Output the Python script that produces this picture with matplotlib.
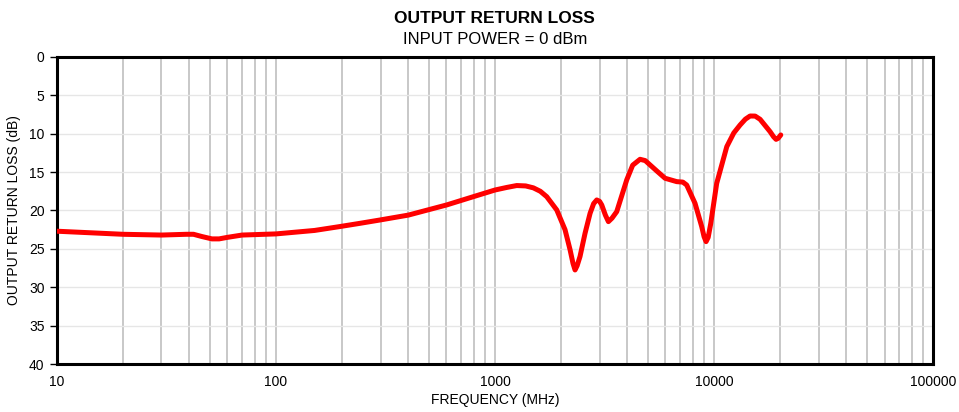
import numpy as np
import matplotlib.pyplot as plt
from matplotlib.ticker import LogLocator, FixedLocator, NullFormatter

plt.rcParams['font.family'] = ['Liberation Sans', 'DejaVu Sans']

# Output return loss vs frequency
freq_mhz = [10, 20, 30, 39, 42, 46, 51, 55, 60, 70, 100, 150, 195, 242, 298,
            402, 505, 601, 796, 1000, 1130, 1256, 1380, 1496, 1610, 1722, 1913,
            2087, 2200, 2270, 2319, 2370, 2443, 2576, 2716, 2820, 2913, 3000,
            3070, 3190, 3293, 3420, 3594, 3994, 4250, 4592, 4850, 5104, 5500,
            5974, 6752, 7200, 7499, 8185, 8782, 9000, 9193, 9400, 9656, 10280,
            11430, 12300, 13146, 13900, 14600, 15400, 16220, 18020, 18700,
            19190, 19600, 20160]
rl_db = [22.7, 23.1, 23.2, 23.1, 23.1, 23.4, 23.7, 23.7, 23.5, 23.2, 23.05,
         22.6, 22.1, 21.67, 21.24, 20.6, 19.85, 19.28, 18.2, 17.33, 17.0,
         16.75, 16.8, 17.05, 17.5, 18.2, 19.93, 22.5, 25.1, 26.9, 27.75,
         27.2, 26.0, 22.97, 20.37, 19.1, 18.63, 18.8, 19.28, 20.6, 21.45,
         21.0, 20.15, 16.0, 14.1, 13.33, 13.5, 14.07, 14.9, 15.8, 16.24,
         16.3, 16.68, 19.06, 22.1, 23.4, 24.06, 23.5, 21.7, 16.46, 11.68,
         9.9, 8.86, 8.1, 7.69, 7.7, 8.12, 9.73, 10.4, 10.73, 10.6, 10.16]

y_ticks = [0, 5, 10, 15, 20, 25, 30, 35, 40]

fig = plt.figure(figsize=(9.59, 4.12), dpi=100)
ax = fig.add_axes([0.0594, 0.1165, 0.9136, 0.7452])

ax.plot(freq_mhz, rl_db, color='#ff0000', linewidth=3.6,
        solid_capstyle='round', solid_joinstyle='round', zorder=3)

ax.set_xscale('log')
ax.set_xlim(10, 100000)
ax.set_ylim(40, 0)
ax.yaxis.set_major_locator(FixedLocator(y_ticks))

# grid: grey verticals on every log line, faint horizontals
ax.xaxis.set_minor_locator(LogLocator(base=10, subs=np.arange(2, 10)))
ax.xaxis.set_minor_formatter(NullFormatter())
ax.grid(True, axis='x', which='both', color='#c4c4c4', linewidth=1.3)
ax.grid(True, axis='y', which='major', color='#e6e6e6', linewidth=1.0)
ax.set_axisbelow(True)

for side in ['left', 'top', 'bottom', 'right']:
    ax.spines[side].set_linewidth(2.2)
    ax.spines[side].set_color('black')

ax.tick_params(axis='y', which='major', length=5, width=1.0,
               labelsize=10, direction='out', pad=4)
ax.tick_params(axis='x', which='both', length=0, labelsize=10, pad=8)
ax.set_xticks([10, 100, 1000, 10000, 100000])
ax.set_xticklabels(['10', '100', '1000', '10000', '100000'])

ax.set_xlabel('FREQUENCY (MHz)', fontsize=10, labelpad=3)
ax.set_ylabel('OUTPUT RETURN LOSS (dB)', fontsize=10, labelpad=6)

fig.text(0.516, 0.955, 'OUTPUT RETURN LOSS', ha='center', va='center',
         fontsize=12.5, fontweight='bold')
fig.text(0.516, 0.905, 'INPUT POWER = 0 dBm', ha='center', va='center',
         fontsize=12)

fig.savefig('out.png', dpi=100)
